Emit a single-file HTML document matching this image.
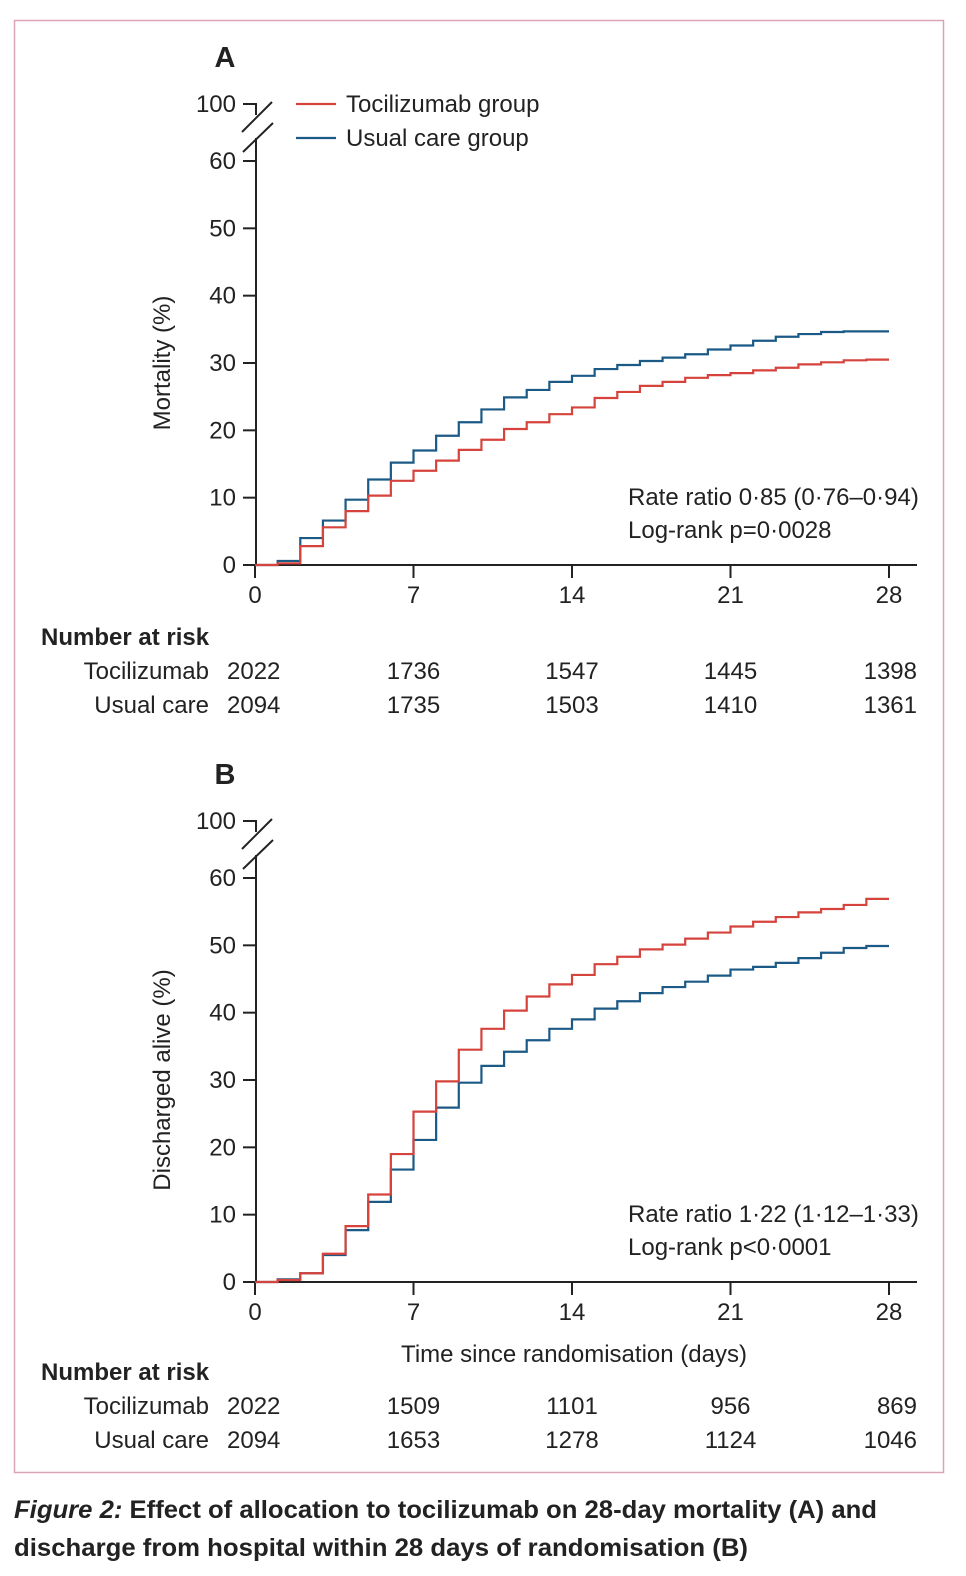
<!DOCTYPE html>
<html><head><meta charset="utf-8"><style>
body{margin:0;background:#fff;}
svg{display:block;font-family:"Liberation Sans",sans-serif;}
</style></head><body>
<svg id="fig" width="966" height="1576" viewBox="0 0 966 1576">
<rect x="14.5" y="20.5" width="929" height="1452" fill="none" stroke="#d9a3b8" stroke-width="1.5"/>
<g id="gA"></g>
<g id="gB"></g>
<text x="14" y="1518" font-size="25" fill="#222" font-weight="bold" textLength="863" lengthAdjust="spacingAndGlyphs"><tspan font-style="italic">Figure 2:</tspan> Effect of allocation to tocilizumab on 28-day mortality (A) and</text>
<text x="14" y="1556" font-size="25" fill="#222" font-weight="bold" textLength="734" lengthAdjust="spacingAndGlyphs">discharge from hospital within 28 days of randomisation (B)</text>
</svg>
<script>
const days = [0,7,14,21,28];
const yTicks = [0,10,20,30,40,50,60];
const mortToci = [0,0.25,2.8,5.6,8.0,10.3,12.5,14.0,15.5,17.1,18.6,20.2,21.2,22.4,23.4,24.8,25.7,26.6,27.2,27.8,28.2,28.5,28.9,29.3,29.8,30.1,30.4,30.5];
const mortUsual = [0,0.6,4.0,6.6,9.7,12.7,15.2,17.0,19.2,21.2,23.1,24.9,26.0,27.2,28.1,29.1,29.7,30.3,30.8,31.3,32.0,32.6,33.3,33.9,34.3,34.6,34.7,34.7];
const discToci = [0,0.3,1.3,4.2,8.3,13.0,19.0,25.3,29.8,34.5,37.6,40.3,42.4,44.2,45.6,47.2,48.3,49.4,50.1,51.0,51.9,52.8,53.5,54.2,54.9,55.4,56.0,56.9];
const discUsual = [0,0.4,1.3,4.0,7.7,11.9,16.7,21.1,25.9,29.6,32.1,34.2,35.9,37.6,39.0,40.6,41.7,42.9,43.8,44.6,45.5,46.4,46.8,47.4,48.1,48.9,49.6,49.9];
const riskA_toci = [2022,1736,1547,1445,1398];
const riskA_usual = [2094,1735,1503,1410,1361];
const riskB_toci = [2022,1509,1101,956,869];
const riskB_usual = [2094,1653,1278,1124,1046];

const NS='http://www.w3.org/2000/svg';
const RED='#d6433c', BLUE='#1b5a86', INK='#222';
const FS=24;
function mk(parent,tag,attrs,txt){const e=document.createElementNS(NS,tag);for(const k in attrs)e.setAttribute(k,attrs[k]);if(txt!==undefined)e.textContent=txt;parent.appendChild(e);return e;}
const x0=255,x1=889;
function xs(d){return x0+(x1-x0)*d/28;}

function panel(g,y0,letter,ylabel,red,blue,stat1,stat2,rT,rU,riskY,showXTitle){
  const ys=v=>y0-(v/60)*404;
  const t=y0-461;
  let e=mk(g,'text',{x:225,y:t-37,'font-size':29,'font-weight':'bold','text-anchor':'middle',fill:INK},letter);
  
  e=mk(g,'path',{d:`M256 ${t+34} V${y0} H917`,fill:'none',stroke:INK,'stroke-width':2});
  
  e=mk(g,'path',{d:`M243 ${t} H256 V${t+11} M242 ${t+28} L272 ${t-2} M243 ${t+48} L273 ${t+19}`,fill:'none',stroke:INK,'stroke-width':2});
  
  e=mk(g,'text',{x:236,y:t+8,'font-size':FS,'text-anchor':'end',fill:INK},'100');
  
  yTicks.forEach(v=>{
    const y=ys(v);
    let l=mk(g,'line',{x1:243,x2:256,y1:y,y2:y,stroke:INK,'stroke-width':2});
    
    let tx=mk(g,'text',{x:236,y:y+8,'font-size':FS,'text-anchor':'end',fill:INK},String(v));
    
  });
  days.forEach(d=>{
    const x=xs(d);
    let l=mk(g,'line',{x1:x,x2:x,y1:y0,y2:y0+13,stroke:INK,'stroke-width':2});
    
    let tx=mk(g,'text',{x:x,y:y0+38,'font-size':FS,'text-anchor':'middle',fill:INK},String(d));
    
  });
  e=mk(g,'text',{x:0,y:0,'font-size':FS,'text-anchor':'middle',fill:INK,transform:`translate(170 ${ys(30)}) rotate(-90)`},ylabel);
  
  function stepPath(vals){let d=`M${xs(0)} ${ys(vals[0])}`;vals.forEach((v,i)=>{d+=` V${ys(v)} H${xs(i+1)}`;});return d;}
  e=mk(g,'path',{d:stepPath(blue),fill:'none',stroke:BLUE,'stroke-width':2.2});
  
  e=mk(g,'path',{d:stepPath(red),fill:'none',stroke:RED,'stroke-width':2.2});
  
  e=mk(g,'text',{x:628,y:y0-60,'font-size':FS,fill:INK},stat1);
  
  e=mk(g,'text',{x:628,y:y0-27,'font-size':FS,fill:INK},stat2);
  
  if(showXTitle){
    e=mk(g,'text',{x:574,y:y0+80,'font-size':FS,'text-anchor':'middle',fill:INK},'Time since randomisation (days)');
    
  }
  e=mk(g,'text',{x:41,y:riskY,'font-size':FS,'font-weight':'bold',fill:INK},'Number at risk');
  
  e=mk(g,'text',{x:209,y:riskY+34,'font-size':FS,'text-anchor':'end',fill:INK},'Tocilizumab');
  
  e=mk(g,'text',{x:209,y:riskY+68,'font-size':FS,'text-anchor':'end',fill:INK},'Usual care');
  
  days.forEach((d,i)=>{
    const anchor=i===0?'start':(i===4?'end':'middle');
    const x=i===0?227:(i===4?917:xs(d));
    let a=mk(g,'text',{x:x,y:riskY+34,'font-size':FS,'text-anchor':anchor,fill:INK},String(rT[i]));
    
    let b=mk(g,'text',{x:x,y:riskY+68,'font-size':FS,'text-anchor':anchor,fill:INK},String(rU[i]));
    
  });
}
const gA=document.getElementById('gA'),gB=document.getElementById('gB');
panel(gA,565,'A','Mortality (%)',mortToci,mortUsual,'Rate ratio 0·85 (0·76–0·94)','Log-rank p=0·0028',riskA_toci,riskA_usual,645,false);
panel(gB,1282,'B','Discharged alive (%)',discToci,discUsual,'Rate ratio 1·22 (1·12–1·33)','Log-rank p<0·0001',riskB_toci,riskB_usual,1380,true);
let e=mk(gA,'line',{x1:296,x2:336,y1:104,y2:104,stroke:RED,'stroke-width':2.2});

e=mk(gA,'text',{x:346,y:112,'font-size':FS,fill:INK},'Tocilizumab group');

e=mk(gA,'line',{x1:296,x2:336,y1:138,y2:138,stroke:BLUE,'stroke-width':2.2});

e=mk(gA,'text',{x:346,y:146,'font-size':FS,fill:INK},'Usual care group');

</script>
</body></html>
